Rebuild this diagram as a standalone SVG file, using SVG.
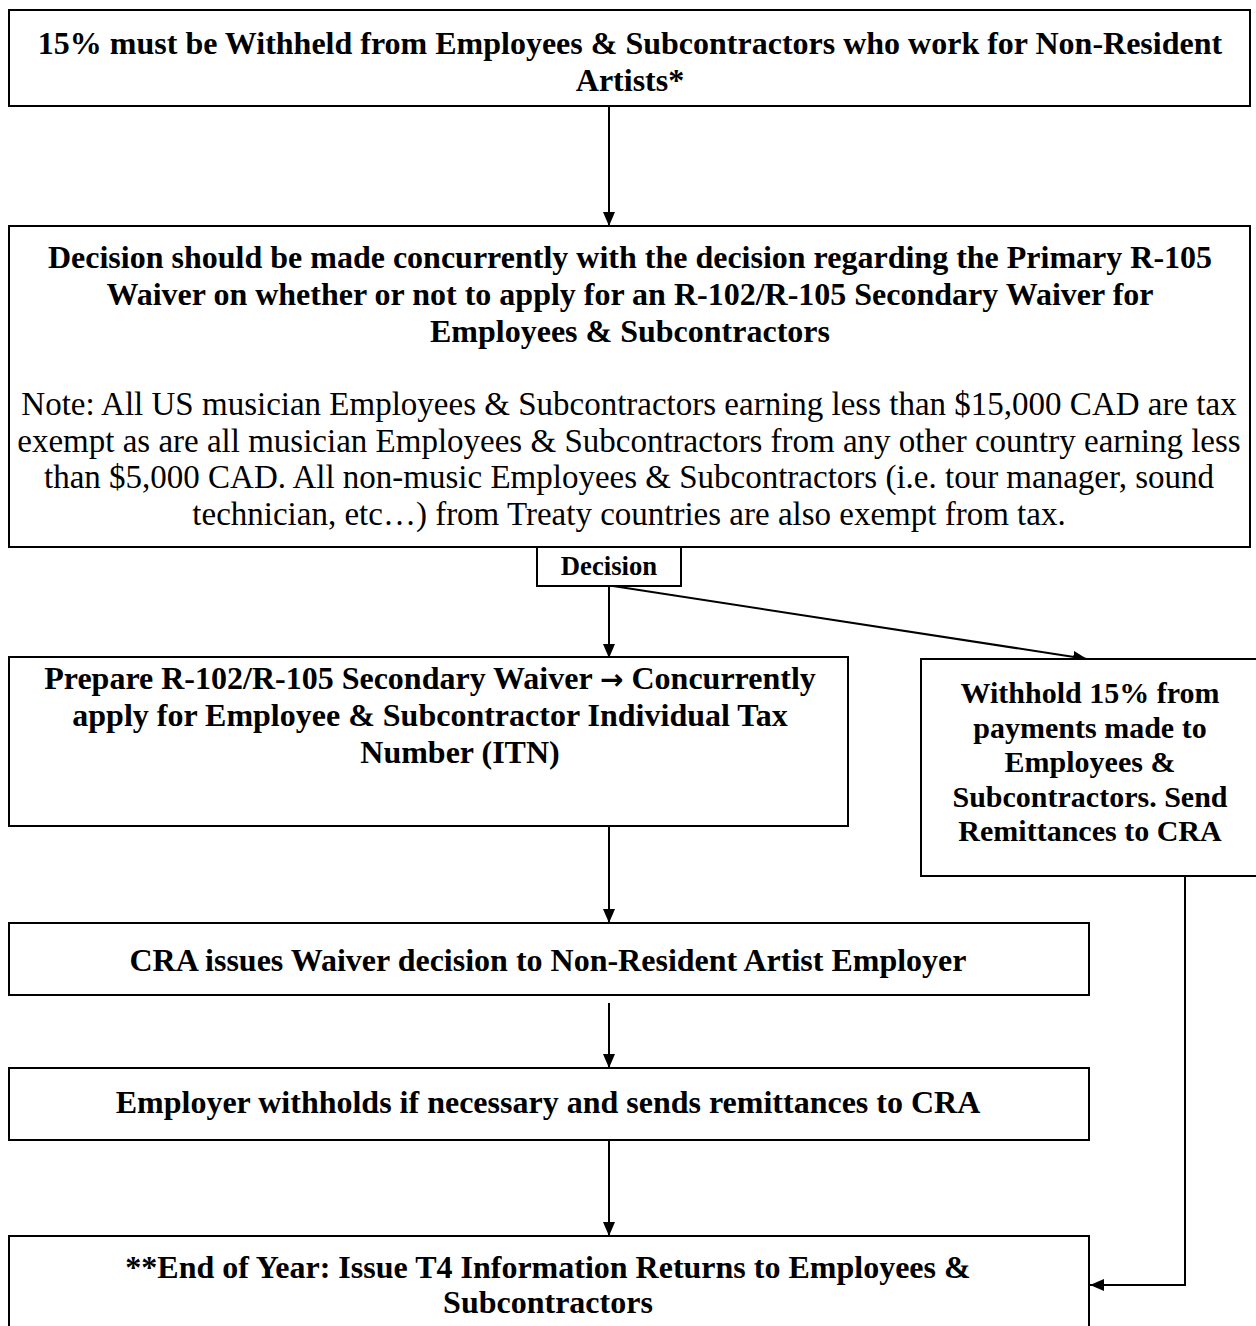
<svg xmlns="http://www.w3.org/2000/svg" width="1256" height="1326" viewBox="0 0 1256 1326">
<style>
.box{fill:#fff;stroke:#000;stroke-width:2}
.b{font-family:"Liberation Serif","Times New Roman",serif;font-weight:bold;font-size:32px;fill:#000;text-anchor:middle}
.n{font-family:"Liberation Serif","Times New Roman",serif;font-size:33px;fill:#000;text-anchor:middle}
.s{font-size:30px}
.c{stroke:#000;stroke-width:2;fill:none}
</style>
<defs>
<marker id="ah" viewBox="0 0 14 12" refX="14" refY="6" markerWidth="14" markerHeight="12" markerUnits="userSpaceOnUse" orient="auto">
<path d="M0,0 L14,6 L0,12 Z" fill="#000"/>
</marker>
</defs>
<rect width="1256" height="1326" fill="#fff"/>
<g id="connectors">
<line class="c" x1="609" y1="106" x2="609" y2="226" marker-end="url(#ah)"/>
<line class="c" x1="609" y1="586" x2="609" y2="658" marker-end="url(#ah)"/>
<line class="c" x1="613" y1="586" x2="1087" y2="659" marker-end="url(#ah)"/>
<line class="c" x1="609" y1="826" x2="609" y2="923" marker-end="url(#ah)"/>
<line class="c" x1="609" y1="1003" x2="609" y2="1068" marker-end="url(#ah)"/>
<line class="c" x1="609" y1="1140" x2="609" y2="1236" marker-end="url(#ah)"/>
<polyline class="c" points="1185,876 1185,1285 1090,1285" marker-end="url(#ah)"/>
</g>
<g id="node-withheld">
<rect class="box" x="9" y="10" width="1241" height="96"/>
<text class="b" x="630" y="54">15% must be Withheld from Employees &amp; Subcontractors who work for Non-Resident</text>
<text class="b" x="630" y="91">Artists*</text>
</g>
<g id="node-decision-info">
<rect class="box" x="9" y="226" width="1241" height="321"/>
<text class="b" x="630" y="268">Decision should be made concurrently with the decision regarding the Primary R-105</text>
<text class="b" x="630" y="305">Waiver on whether or not to apply for an R-102/R-105 Secondary Waiver for</text>
<text class="b" x="630" y="342">Employees &amp; Subcontractors</text>
<text class="n" x="629" y="415">Note: All US musician Employees &amp; Subcontractors earning less than $15,000 CAD are tax</text>
<text class="n" x="629" y="452">exempt as are all musician Employees &amp; Subcontractors from any other country earning less</text>
<text class="n" x="629" y="488">than $5,000 CAD. All non-music Employees &amp; Subcontractors (i.e. tour manager, sound</text>
<text class="n" x="629" y="525">technician, etc…) from Treaty countries are also exempt from tax.</text>
</g>
<g id="node-decision">
<rect class="box" x="537" y="547" width="144" height="39"/>
<text class="b" x="609" y="575" style="font-size:26.7px">Decision</text>
</g>
<g id="node-prepare">
<rect class="box" x="9" y="657" width="839" height="169"/>
<text class="b" x="430" y="689">Prepare R-102/R-105 Secondary Waiver <tspan style="font-family:'DejaVu Sans',sans-serif;font-size:28px">→</tspan> Concurrently</text>
<text class="b" x="430" y="726">apply for Employee &amp; Subcontractor Individual Tax</text>
<text class="b" x="460" y="763">Number (ITN)</text>
</g>
<g id="node-withhold">
<rect class="box" x="921" y="659" width="340" height="217"/>
<text class="b s" x="1090" y="703">Withhold 15% from</text>
<text class="b s" x="1090" y="738">payments made to</text>
<text class="b s" x="1090" y="772">Employees &amp;</text>
<text class="b s" x="1090" y="807">Subcontractors. Send</text>
<text class="b s" x="1090" y="841">Remittances to CRA</text>
</g>
<g id="node-cra">
<rect class="box" x="9" y="923" width="1080" height="72"/>
<text class="b" x="548" y="971">CRA issues Waiver decision to Non-Resident Artist Employer</text>
</g>
<g id="node-employer">
<rect class="box" x="9" y="1068" width="1080" height="72"/>
<text class="b" x="548" y="1113">Employer withholds if necessary and sends remittances to CRA</text>
</g>
<g id="node-endyear">
<rect class="box" x="9" y="1236" width="1080" height="120"/>
<text class="b" x="548" y="1278">**End of Year: Issue T4 Information Returns to Employees &amp;</text>
<text class="b" x="548" y="1313">Subcontractors</text>
</g>
</svg>
